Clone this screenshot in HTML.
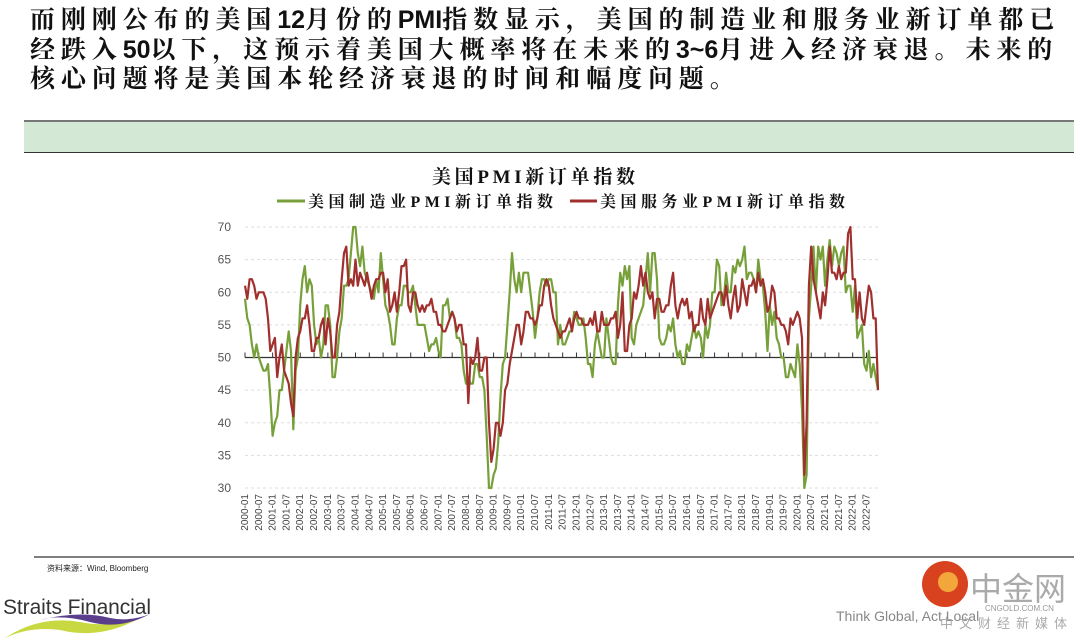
<!DOCTYPE html>
<html><head><meta charset="utf-8">
<style>
body{margin:0;width:1080px;height:641px;background:#fff;overflow:hidden;position:relative;font-family:"Liberation Sans","Noto Sans CJK SC",sans-serif}
.hdr{position:absolute;left:30px;top:6px;font-family:"Liberation Sans","Noto Serif CJK SC",serif;font-weight:bold;font-size:25px;line-height:29.5px;color:#111;letter-spacing:5.9px;white-space:nowrap}
.hdr b{font-family:"Liberation Sans",sans-serif;font-weight:bold;letter-spacing:0}
.band{position:absolute;left:24px;top:120px;width:1050px;height:30px;background:#d3e8d5;border-top:2px solid #777;border-bottom:1px solid #333}
</style></head><body>
<div class="hdr">而刚刚公布的美国<b>12</b>月份的<b>PMI</b>指数显示，美国的制造业和服务业新订单都已<br>经跌入<b>50</b>以下，这预示着美国大概率将在未来的<b>3~6</b>月进入经济衰退。未来的<br>核心问题将是美国本轮经济衰退的时间和幅度问题。</div>
<div class="band"></div>
<svg id="chart" width="1080" height="641" style="position:absolute;left:0;top:0">
<text x="432" y="183" textLength="203" font-family="Liberation Serif,Noto Serif CJK SC,serif" font-size="19" font-weight="bold" fill="#111">美国PMI新订单指数</text>
<g>
<line x1="277" y1="201" x2="305" y2="201" stroke="#77a03a" stroke-width="3"/>
<text x="308" y="207" textLength="245" font-family="Liberation Serif,Noto Serif CJK SC,serif" font-size="16" font-weight="bold" fill="#111">美国制造业PMI新订单指数</text>
<line x1="570" y1="201" x2="597" y2="201" stroke="#a0302d" stroke-width="3"/>
<text x="600" y="207" textLength="245" font-family="Liberation Serif,Noto Serif CJK SC,serif" font-size="16" font-weight="bold" fill="#111">美国服务业PMI新订单指数</text>
</g>
<g id="grid"></g><g id="ticks"></g><g id="series"></g><g id="xlab"></g>
<line x1="34" y1="557" x2="1074" y2="557" stroke="#555" stroke-width="1.5"/>
<text x="47" y="571" font-size="8" fill="#222">资料来源：Wind, Bloomberg</text>
<text x="3" y="614" font-size="21" fill="#333" textLength="148">Straits Financial</text>
<path d="M5 638 Q40 615 80 622 Q110 628 140 618 Q100 640 60 630 Q30 626 5 638Z" fill="#c8d840"/>
<path d="M40 620 Q80 610 110 618 Q130 622 150 614 Q120 630 90 622 Q60 614 40 620Z" fill="#5a3e8c"/>
<text x="836" y="621" font-size="14" fill="#888">Think Global, Act Local</text>
<circle cx="945" cy="584" r="23" fill="#d8421e"/><circle cx="948" cy="582" r="10" fill="#f3a73a"/>
<text x="970" y="600" font-size="32" fill="#aaa" font-family="Noto Sans CJK SC,sans-serif">中金网</text>
<text x="985" y="611" font-size="8" fill="#999">CNGOLD.COM.CN</text>
<text x="940" y="628" font-size="13" fill="#aaa" letter-spacing="6" font-family="Noto Sans CJK SC,sans-serif">中文财经新媒体</text>
</svg>
<script>
const months=[];for(let y=2000;y<=2022;y++)for(let m=1;m<=12;m++)months.push(y+'-'+String(m).padStart(2,'0'));
const yTicks=[30,35,40,45,50,55,60,65,70];
const manufacturing=[59,56,55,52,50,52,50,49,48,48,49,44,
38,40,41,45,45,48,51,54,51,39,48,50,
58,62,64,60,62,61,55,52,53,50,52,58,
58,55,47,47,50,54,56,61,61,62,66,70,
70,66,64,67,63,62,61,60,59,62,60,66,
62,58,57,55,52,52,56,58,58,61,61,60,
60,61,58,55,55,55,55,53,51,52,52,53,
51,50,58,58,59,56,57,56,53,53,52,48,
46,47,46,46,49,49,47,47,45,38,30,29,
32,33,37,44,49,50,55,60,66,62,60,63,
60,63,63,63,60,57,53,56,60,62,62,61,
62,62,60,60,52,55,52,52,53,54,54,57,
56,55,55,56,53,49,49,47,52,54,52,50,
50,56,53,50,49,49,58,63,61,64,62,64,
53,52,55,56,57,58,62,66,60,66,66,62,
53,52,52,53,55,54,56,52,50,51,49,49,
52,51,53,55,53,54,53,50,55,53,55,60,
60,65,64,58,59,63,60,60,64,63,65,64,
65,67,62,63,63,62,60,65,62,61,57,51,
58,55,57,53,52,50,50,47,47,49,48,47,
52,49,42,27,32,56,61,67,60,67,65,67,
61,65,68,64,67,66,64,66,67,60,61,61,
57,61,53,54,55,49,48,51,47,49,47,45];
const services=[61,59,62,62,61,59,60,60,60,59,56,51,
52,53,47,50,52,48,47,46,43,41,50,53,
54,56,56,58,55,51,51,53,53,55,56,52,
56,54,50,50,55,57,62,66,67,61,62,61,
65,61,63,62,61,63,61,59,61,62,62,63,
63,60,62,57,58,60,57,60,64,64,65,58,
57,60,60,58,57,58,57,58,58,59,57,57,
55,55,54,54,55,56,57,56,54,55,55,52,
52,43,50,49,50,53,48,48,50,50,40,34,
36,40,40,38,40,45,46,49,51,53,55,55,
52,54,57,57,56,56,55,56,58,58,61,62,
61,58,56,55,54,53,54,54,55,56,54,56,
57,56,56,55,55,55,56,55,57,54,54,57,
55,55,55,56,56,57,53,55,60,51,51,55,
56,60,59,61,64,61,63,60,59,60,56,59,
59,57,57,58,58,61,63,58,56,58,59,58,
59,56,57,54,55,55,59,56,55,59,56,57,
58,59,60,60,58,61,58,56,59,61,57,58,
62,60,58,61,61,62,60,63,61,62,60,57,
58,61,60,56,56,55,55,54,52,56,55,56,
57,56,53,32,40,61,67,62,60,58,56,60,
58,62,67,63,63,62,64,62,63,63,69,70,
62,62,56,60,56,55,58,61,60,56,56,45];
const X0=245,X1=878,Y0=488,Y1=227,VMIN=30,VMAX=70;
const xs=i=>X0+(X1-X0)*i/(months.length-1);
const ys=v=>Y0-(Math.max(VMIN,Math.min(VMAX,v))-VMIN)/(VMAX-VMIN)*(Y0-Y1);
const NS='http://www.w3.org/2000/svg';
function mk(t,a,p){const e=document.createElementNS(NS,t);for(const k in a)e.setAttribute(k,a[k]);p.appendChild(e);return e;}
const grid=document.getElementById('grid'),ticks=document.getElementById('ticks'),ser=document.getElementById('series'),xl=document.getElementById('xlab');
yTicks.forEach(v=>{
 if(v!==50){const g=mk('line',{x1:X0,x2:X1,y1:ys(v),y2:ys(v),stroke:'#ddd','stroke-dasharray':'3,3'},grid);
 
 }
 const t=mk('text',{x:231,y:ys(v)+4,'text-anchor':'end','font-size':'12',fill:'#555'},ticks);t.textContent=v;
 
 
});
const ax=mk('line',{x1:X0,x2:X1,y1:ys(50),y2:ys(50),stroke:'#333','stroke-width':1.2},ticks);


months.forEach((m,i)=>{
 if(i%6===0){mk('line',{x1:xs(i),x2:xs(i),y1:ys(50)-5,y2:ys(50),stroke:'#333'},ticks);
 const t=mk('text',{x:0,y:0,transform:`translate(${xs(i)+3},494) rotate(-90)`,'text-anchor':'end','font-size':'10',fill:'#444'},xl);t.textContent=m;
 
 }
});
function line(arr,col,name){const d=arr.map((v,i)=>(i?'L':'M')+xs(i).toFixed(1)+' '+ys(v).toFixed(1)).join('');
 const p=mk('path',{d:d,fill:'none',stroke:col,'stroke-width':2.2,'stroke-linejoin':'round'},ser);
 
 }
line(manufacturing,'#77a03a','manufacturing-line');
line(services,'#a0302d','services-line');
</script>
</body></html>
